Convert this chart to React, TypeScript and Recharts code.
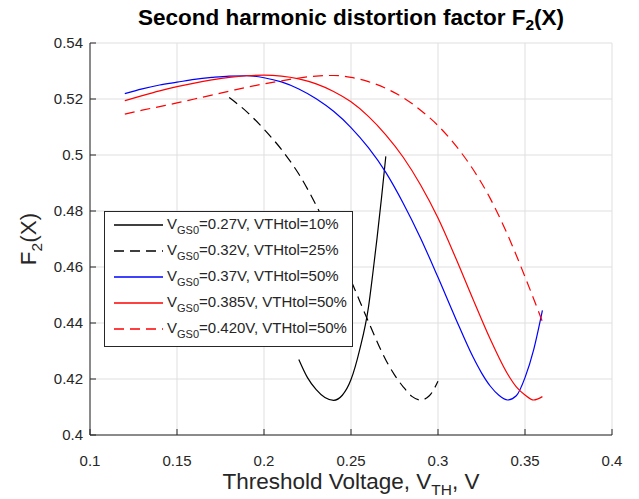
import React from "react";
import { LineChart, Line, XAxis, YAxis, CartesianGrid, Legend, Label } from "recharts";

const xTicks = [0.1, 0.15, 0.2, 0.25, 0.3, 0.35, 0.4];
const yTicks = [0.4, 0.42, 0.44, 0.46, 0.48, 0.5, 0.52, 0.54];

// VGS0 = 0.27V, VTHtol = 10%
const vthA = [0.22, 0.225, 0.23, 0.235, 0.24, 0.245, 0.25, 0.255, 0.26, 0.2625, 0.265, 0.2675, 0.27];
const f2A = [0.427, 0.4205, 0.4162, 0.4134, 0.4124, 0.4142, 0.4198, 0.4305, 0.4455, 0.4575, 0.4705, 0.4845, 0.4995];

// VGS0 = 0.32V, VTHtol = 25%
const vthB = [0.18, 0.19, 0.2, 0.21, 0.22, 0.23, 0.24, 0.25, 0.26, 0.27, 0.275, 0.28, 0.285, 0.29, 0.295, 0.3];
const f2B = [0.5205, 0.5155, 0.5092, 0.502, 0.4932, 0.482, 0.469, 0.4552, 0.4405, 0.4268, 0.4215, 0.4172, 0.4138, 0.4125, 0.414, 0.4192];

// VGS0 = 0.37V, VTHtol = 50%
const vthC = [0.12, 0.13, 0.14, 0.15, 0.16, 0.17, 0.18, 0.19, 0.2, 0.21, 0.22, 0.23, 0.24, 0.25, 0.26, 0.27, 0.28, 0.29, 0.3, 0.31, 0.32, 0.325, 0.33, 0.335, 0.34, 0.345, 0.35, 0.355, 0.36];
const f2C = [0.5219, 0.5236, 0.525, 0.526, 0.527, 0.5277, 0.5282, 0.5283, 0.5276, 0.5261, 0.5236, 0.5201, 0.5156, 0.5098, 0.5026, 0.4938, 0.4828, 0.4703, 0.4563, 0.4418, 0.428, 0.4222, 0.4175, 0.4142, 0.4125, 0.414, 0.4205, 0.4305, 0.4445];

// VGS0 = 0.385V, VTHtol = 50%
const vthD = [0.12, 0.13, 0.14, 0.15, 0.16, 0.17, 0.18, 0.19, 0.2, 0.21, 0.22, 0.23, 0.24, 0.25, 0.26, 0.27, 0.28, 0.29, 0.3, 0.31, 0.32, 0.33, 0.34, 0.345, 0.35, 0.355, 0.36];
const f2D = [0.5194, 0.5212, 0.5229, 0.5244, 0.5257, 0.5268, 0.5277, 0.5283, 0.5285, 0.5282, 0.5272, 0.5254, 0.5227, 0.519, 0.5138, 0.5072, 0.4992, 0.4893, 0.4775, 0.4635, 0.4487, 0.4343, 0.4218, 0.4172, 0.4143, 0.4125, 0.4137];

// VGS0 = 0.420V, VTHtol = 50%
const vthE = [0.12, 0.13, 0.14, 0.15, 0.16, 0.17, 0.18, 0.19, 0.2, 0.21, 0.22, 0.23, 0.24, 0.25, 0.26, 0.27, 0.28, 0.29, 0.3, 0.31, 0.32, 0.33, 0.34, 0.35, 0.36];
const f2E = [0.5146, 0.516, 0.5173, 0.5186, 0.52, 0.5214, 0.5228, 0.5242, 0.5254, 0.5265, 0.5275, 0.5282, 0.5284, 0.5277, 0.5262, 0.5238, 0.5205, 0.516, 0.5105, 0.5035, 0.495, 0.4845, 0.4715, 0.4565, 0.4405];

const vgsLabels = ["0.27V", "0.32V", "0.37V", "0.385V", "0.420V"];
const tolLabels = ["10%", "25%", "50%", "50%", "50%"];
const colors = ["#000000", "#000000", "#0000ff", "#ff0000", "#ff0000"];
const dashes = [undefined, "10 6", undefined, undefined, "10 6"];

const zip = (xs: number[], ys: number[]) => xs.map((x, i) => ({ x, y: ys[i] }));
const seriesData = [zip(vthA, f2A), zip(vthB, f2B), zip(vthC, f2C), zip(vthD, f2D), zip(vthE, f2E)];

const FONT = '"Liberation Sans", Arial, Helvetica, sans-serif';
const TXT = "#262626";

function LegendBox() {
  const rowH = 26;
  return (
    <svg width={249} height={136} style={{ display: "block" }}>
      <rect x={0.5} y={0.5} width={248} height={135} fill="#fff" stroke={TXT} strokeWidth={1} />
      {vgsLabels.map((v, i) => {
        const cy = 14 + i * rowH;
        return (
          <g key={i}>
            <line x1={10} x2={59} y1={cy} y2={cy} stroke={colors[i]} strokeWidth={1.3} strokeDasharray={dashes[i]} />
            <text x={63} y={cy + 4} fontSize={15} fill={TXT} fontFamily={FONT}>
              V<tspan fontSize={11} dy={5}>GS0</tspan>
              <tspan dy={-5}>={v}, VTHtol={tolLabels[i]}</tspan>
            </text>
          </g>
        );
      })}
    </svg>
  );
}

const XLabel = (props: any) => {
  const { x, y, width } = props.viewBox;
  return (
    <text x={x + width / 2} y={y + 54} textAnchor="middle" fontSize={22.5} fill={TXT} fontFamily={FONT}>
      Threshold Voltage, V<tspan fontSize={15.5} dy={6}>TH</tspan>
      <tspan dy={-6}>, V</tspan>
    </text>
  );
};

const YLabel = (props: any) => {
  const { y, height } = props.viewBox;
  const cx = 36;
  const cy = y + height / 2;
  return (
    <text x={cx} y={cy} transform={`rotate(-90 ${cx} ${cy})`} textAnchor="middle" fontSize={22.5} fill={TXT} fontFamily={FONT}>
      F<tspan fontSize={15.5} dy={6}>2</tspan>
      <tspan dy={-6}>(X)</tspan>
    </text>
  );
};

export default function App() {
  return (
    <div style={{ position: "absolute", left: 0, top: 0, width: 639, height: 499, background: "#fff", fontFamily: FONT }}>
      <svg width={639} height={40} style={{ position: "absolute", left: 0, top: 0 }}>
        <text x={351} y={25} textAnchor="middle" fontSize={22.5} fontWeight="bold" fill="#000" fontFamily={FONT}>
          Second harmonic distortion factor F<tspan fontSize={15.5} dy={5}>2</tspan>
          <tspan dy={-5}>(X)</tspan>
        </text>
      </svg>
      <LineChart width={639} height={499} margin={{ top: 43, right: 27, bottom: 24, left: 30 }}>
        <CartesianGrid stroke="#dfdfdf" strokeWidth={1} />
        <XAxis
          type="number"
          dataKey="x"
          domain={[0.1, 0.4]}
          ticks={xTicks}
          allowDataOverflow
          height={40}
          stroke={TXT}
          tickSize={-6}
          tickMargin={26}
          tick={{ fontSize: 15, fill: TXT, fontFamily: FONT }}
        >
          <Label content={XLabel} />
        </XAxis>
        <YAxis
          type="number"
          domain={[0.4, 0.54]}
          ticks={yTicks}
          allowDataOverflow
          width={60}
          stroke={TXT}
          tickSize={-6}
          tickMargin={13}
          tick={{ fontSize: 15, fill: TXT, fontFamily: FONT }}
        >
          <Label content={YLabel} />
        </YAxis>
        <Legend
          layout="vertical"
          align="center"
          verticalAlign="middle"
          content={() => <LegendBox />}
          wrapperStyle={{ position: "absolute", left: 104, top: 211, width: 249, height: 136 }}
        />
        {seriesData.map((d, i) => (
          <Line
            key={i}
            data={d}
            dataKey="y"
            type="monotone"
            stroke={colors[i]}
            strokeWidth={1.2}
            strokeDasharray={dashes[i]}
            dot={false}
            activeDot={false}
            isAnimationActive={false}
            name={`VGS0=${vgsLabels[i]}, VTHtol=${tolLabels[i]}`}
          />
        ))}
      </LineChart>
    </div>
  );
}
